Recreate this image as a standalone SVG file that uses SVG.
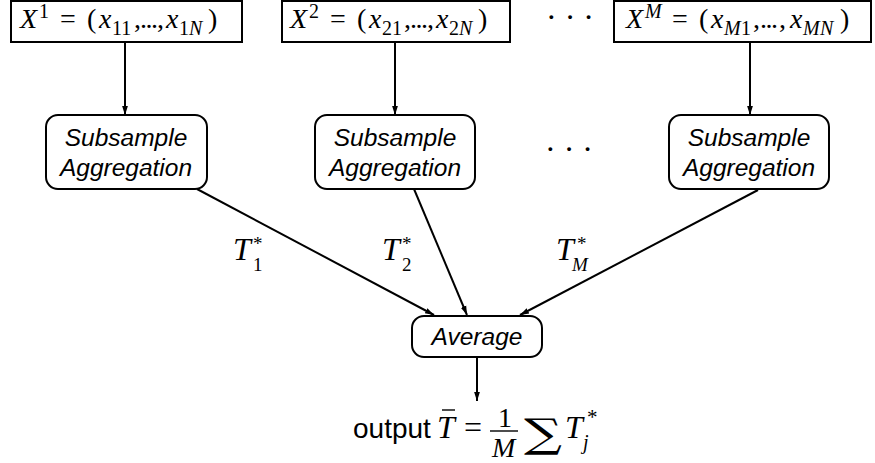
<svg xmlns="http://www.w3.org/2000/svg" width="875" height="463" viewBox="0 0 875 463">
<style>
.box{fill:#fff;stroke:#000;stroke-width:2}
.m{font-family:"Liberation Serif","DejaVu Serif",serif;font-size:28px;fill:#000}
.i{font-style:italic}
.s{font-size:20px}
.st{font-size:19px}
.sb{font-size:19px}
.big{font-size:32px}
.lab{font-family:"Liberation Sans",Arial,sans-serif;font-style:italic;font-size:24.5px;fill:#000;text-anchor:middle}
.out{font-family:"Liberation Sans",Arial,sans-serif;font-size:28px;fill:#000}
.c{stroke:#000;stroke-width:2;fill:none}
</style>
<defs>
<marker id="ah" markerWidth="9" markerHeight="14" refX="14" refY="4.5" viewBox="0 0 14 9" orient="auto" markerUnits="userSpaceOnUse">
<path d="M0,0 L14,4.5 L0,9 Z" fill="#000"/>
</marker>
</defs>
<g id="x1">
<rect class="box" x="11" y="1" width="231" height="41"/>
<text class="m"><tspan class="i" x="20" y="28">X</tspan><tspan class="s" x="39" y="18">1</tspan><tspan x="60" y="28">=</tspan><tspan x="87" y="28">(</tspan><tspan class="i" x="99" y="28">x</tspan><tspan class="s" x="112" y="35">11</tspan><tspan x="134" y="28">,</tspan><tspan x="140" y="28" letter-spacing="-1.5">...</tspan><tspan x="157" y="28">,</tspan><tspan class="i" x="166" y="28">x</tspan><tspan class="s" x="179" y="35">1</tspan><tspan class="s i" x="189" y="35">N</tspan><tspan x="208" y="28">)</tspan></text>
</g>
<g id="x2">
<rect class="box" x="282" y="1" width="228" height="41"/>
<text class="m"><tspan class="i" x="290" y="28">X</tspan><tspan class="s" x="309" y="18">2</tspan><tspan x="330" y="28">=</tspan><tspan x="357" y="28">(</tspan><tspan class="i" x="369" y="28">x</tspan><tspan class="s" x="382" y="35">21</tspan><tspan x="404" y="28">,</tspan><tspan x="410" y="28" letter-spacing="-1.5">...</tspan><tspan x="427" y="28">,</tspan><tspan class="i" x="436" y="28">x</tspan><tspan class="s" x="449" y="35">2</tspan><tspan class="s i" x="459" y="35">N</tspan><tspan x="478" y="28">)</tspan></text>
</g>
<text id="dots1" class="m big" x="546" y="28">· · ·</text>
<g id="xm">
<rect class="box" x="614" y="1" width="257" height="41"/>
<text class="m"><tspan class="i" x="626" y="28">X</tspan><tspan class="s i" x="645" y="18">M</tspan><tspan x="672" y="28">=</tspan><tspan x="699" y="28">(</tspan><tspan class="i" x="711" y="28">x</tspan><tspan class="s i" x="724" y="35">M</tspan><tspan class="s" x="741" y="35">1</tspan><tspan x="753" y="28">,</tspan><tspan x="760" y="28" letter-spacing="-1.5">...</tspan><tspan x="779" y="28">,</tspan><tspan class="i" x="790" y="28">x</tspan><tspan class="s i" x="803" y="35">M</tspan><tspan class="s i" x="820" y="35">N</tspan><tspan x="840" y="28">)</tspan></text>
</g>
<g id="sa1">
<rect class="box" x="46" y="115" width="161" height="74" rx="12"/>
<text class="lab" x="126" y="146">Subsample</text>
<text class="lab" x="126" y="176">Aggregation</text>
</g>
<g id="sa2">
<rect class="box" x="315" y="115" width="160" height="74" rx="12"/>
<text class="lab" x="395" y="146">Subsample</text>
<text class="lab" x="395" y="176">Aggregation</text>
</g>
<text id="dots2" class="m big" x="545" y="160">· · ·</text>
<g id="sam">
<rect class="box" x="669" y="115" width="160" height="74" rx="12"/>
<text class="lab" x="749" y="146">Subsample</text>
<text class="lab" x="749" y="176">Aggregation</text>
</g>
<g id="avg">
<rect class="box" x="412" y="316" width="130" height="41" rx="12"/>
<text class="lab" x="477" y="345">Average</text>
</g>
<g id="connectors">
<line class="c" x1="125" y1="42" x2="125" y2="115" marker-end="url(#ah)"/>
<line class="c" x1="395" y1="42" x2="395" y2="115" marker-end="url(#ah)"/>
<line class="c" x1="750" y1="42" x2="750" y2="115" marker-end="url(#ah)"/>
<line class="c" x1="197" y1="189" x2="434" y2="315" marker-end="url(#ah)"/>
<line class="c" x1="414" y1="189" x2="467" y2="315" marker-end="url(#ah)"/>
<line class="c" x1="758" y1="190" x2="520" y2="315" marker-end="url(#ah)"/>
<line class="c" x1="477" y1="357" x2="477" y2="401" marker-end="url(#ah)"/>
</g>
<g id="labels">
<text class="m"><tspan class="i big" x="233" y="260">T</tspan><tspan class="st" x="253" y="250">*</tspan><tspan class="sb" x="253" y="271">1</tspan></text>
<text class="m"><tspan class="i big" x="382" y="260">T</tspan><tspan class="st" x="402" y="250">*</tspan><tspan class="sb" x="402" y="271">2</tspan></text>
<text class="m"><tspan class="i big" x="556" y="260">T</tspan><tspan class="st" x="577" y="250">*</tspan><tspan class="sb i" x="572" y="271">M</tspan></text>
</g>
<g id="output">
<text class="out" x="353" y="438">output</text>
<text class="m i big" x="437" y="438">T</text>
<line x1="442" y1="410" x2="455" y2="410" stroke="#000" stroke-width="1.4"/>
<text class="m big" x="464" y="438">=</text>
<text class="m" x="498" y="427" style="font-size:28px">1</text>
<line x1="490" y1="431" x2="518" y2="431" stroke="#000" stroke-width="1.4"/>
<text class="m i" x="492" y="457" style="font-size:28px">M</text>
<text transform="translate(524,447) scale(1.4,1.05)" x="0" y="0" style="font-family:'DejaVu Serif',serif;font-size:38px;fill:#000">∑</text>
<text class="m i big" x="565" y="438">T</text>
<text class="m i" x="583" y="449" style="font-size:20px">j</text>
<text class="m" x="587" y="424" style="font-size:21px">*</text>
</g>
</svg>
